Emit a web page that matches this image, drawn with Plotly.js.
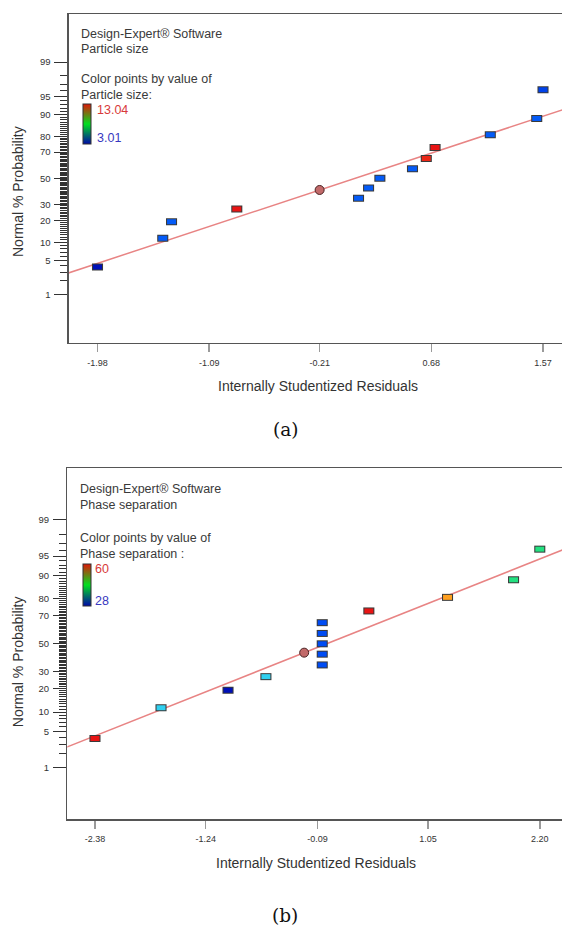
<!DOCTYPE html>
<html><head><meta charset="utf-8">
<script src="https://cdn.plot.ly/plotly-3.0.1.min.js"></script>
<style>html,body{margin:0;padding:0;overflow:hidden;background:#fff;width:562px;height:928px}#chart{width:640px;height:928px}</style>
</head><body><div id="chart"></div><script>
// ---------- data ----------
// Panel (a): Particle size
const residA   = [-1.98, -1.46, -1.39, -0.87, 0.10, 0.18, 0.27, 0.53, 0.64, 0.71, 1.15, 1.52, 1.57];
const probA    = [3.8, 11.5, 19.2, 26.9, 34.6, 42.3, 50.0, 57.7, 65.4, 73.1, 80.8, 88.5, 96.2];
const valueA   = [3.01, 4.2, 4.2, 13.04, 4.2, 4.2, 4.2, 4.2, 12.8, 13.04, 4.2, 4.2, 3.8];
const colorRangeA = [3.01, 13.04];
const centerResA  = [-0.21];
const centerProbA = [40.8];
const fitA        = [-0.059, 0.83];   // [intercept, slope] in normal-score units
const xTickA      = [-1.98, -1.09, -0.21, 0.68, 1.57];
const xTickTextA  = ["-1.98", "-1.09", "-0.21", "0.68", "1.57"];

// Panel (b): Phase separation
const residB   = [-2.38, -1.70, -1.01, -0.62, -0.04, -0.04, -0.04, -0.04, -0.04, 0.44, 1.25, 1.93, 2.20];
const probB    = [3.8, 11.5, 19.2, 26.9, 34.6, 42.3, 50.0, 57.7, 65.4, 73.1, 80.8, 88.5, 96.2];
const valueB   = [60, 38, 28, 38, 31, 31, 31, 31, 31, 60, 54, 45, 45];
const colorRangeB = [28, 60];
const centerResB  = [-0.226];
const centerProbB = [43.4];
const fitB        = [-0.003, 0.724];
const xTickB      = [-2.38, -1.24, -0.09, 1.05, 2.20];
const xTickTextB  = ["-2.38", "-1.24", "-0.09", "1.05", "2.20"];

const probTicks     = [1, 5, 10, 20, 30, 50, 70, 80, 90, 95, 99];
const probTickText  = ["1", "5", "10", "20", "30", "50", "70", "80", "90", "95", "99"];
const probMinor     = [2,3,4,6,7,8,9,11,12,13,14,15,16,17,18,19,21,22,23,24,25,26,27,28,29,31,32,33,34,35,36,37,38,39,40,41,42,43,44,45,46,47,48,49,51,52,53,54,55,56,57,58,59,60,61,62,63,64,65,66,67,68,69,71,72,73,74,75,76,77,78,79,81,82,83,84,85,86,87,88,89,91,92,93,94,96,97,98];

// ---------- normal probability scale ----------
function probit(p){
  const a=[-3.969683028665376e+01,2.209460984245205e+02,-2.759285104469687e+02,1.383577518672690e+02,-3.066479806614716e+01,2.506628277459239e+00];
  const b=[-5.447609879822406e+01,1.615858368580409e+02,-1.556989798598866e+02,6.680131188771972e+01,-1.328068155288572e+01];
  const c=[-7.784894002430293e-03,-3.223964580411365e-01,-2.400758277161838e+00,-2.549732539343734e+00,4.374664141464968e+00,2.938163982698783e+00];
  const d=[7.784695709041462e-03,3.224671290700398e-01,2.445134137142996e+00,3.754408661907416e+00];
  const pl=0.02425, ph=1-pl; let q,r;
  if(p<pl){q=Math.sqrt(-2*Math.log(p));return (((((c[0]*q+c[1])*q+c[2])*q+c[3])*q+c[4])*q+c[5])/((((d[0]*q+d[1])*q+d[2])*q+d[3])*q+1);}
  if(p<=ph){q=p-0.5;r=q*q;return (((((a[0]*r+a[1])*r+a[2])*r+a[3])*r+a[4])*r+a[5])*q/(((((b[0]*r+b[1])*r+b[2])*r+b[3])*r+b[4])*r+1);}
  q=Math.sqrt(-2*Math.log(1-p));return -(((((c[0]*q+c[1])*q+c[2])*q+c[3])*q+c[4])*q+c[5])/((((d[0]*q+d[1])*q+d[2])*q+d[3])*q+1);
}
const toZ = arr => arr.map(p => probit(p/100));

// ---------- styling ----------
const W = 640, H = 928;
const PX = v => v / W, PY = v => 1 - v / H;
const FONT = "Liberation Sans, Arial, sans-serif";
const pointScale = [[0,'#0010b8'],[0.1,'#0050f8'],[0.3125,'#30d0f0'],[0.53,'#22e080'],[0.8125,'#ffa020'],[1,'#e81414']];
const barScale = [[0,'#0008a8'],[0.5,'#00e020'],[1,'#e01808']];

function panelTraces(xa, ya, res, prob, vals, crange, cRes, cProb, fit, cb){
  const z = toZ(prob);
  const fx = [-3.5, 3.5];
  return [
    {type:'scatter', mode:'lines', x:fx, y:fx.map(v => fit[0] + fit[1]*v), xaxis:xa, yaxis:ya,
     line:{color:'#e88484', width:1.5}, hoverinfo:'skip'},
    {type:'scatter', mode:'markers', x:res, y:z, xaxis:xa, yaxis:ya, hoverinfo:'skip',
     marker:{symbol:'line-ew-open', size:7.9, color:'#3a3a3a', line:{width:7}}},
    {type:'scatter', mode:'markers', x:res, y:z, xaxis:xa, yaxis:ya,
     marker:{symbol:'line-ew-open', size:6.4, color:vals, colorscale:pointScale, cmin:crange[0], cmax:crange[1], showscale:false, line:{width:5}}},
    {type:'scatter', mode:'markers', x:res, y:z, xaxis:xa, yaxis:ya, hoverinfo:'skip',
     marker:{size:4, opacity:0, color:vals, colorscale:barScale, cmin:crange[0], cmax:crange[1], showscale:true,
       colorbar:{x:PX(cb[0]), xanchor:'left', y:PY(cb[1]), yanchor:'top', len:cb[2], lenmode:'pixels', thickness:8,
                 xpad:0, ypad:0, outlinewidth:1, outlinecolor:'#333', showticklabels:false, ticks:''}}},
    {type:'scatter', mode:'markers', x:cRes, y:toZ(cProb), xaxis:xa, yaxis:ya,
     marker:{symbol:'circle', size:9, color:'#c26a6a', line:{color:'#4a2424', width:1}}}
  ];
}

const data = [
  ...panelTraces('x','y', residA, probA, valueA, colorRangeA, centerResA, centerProbA, fitA, [83, 104, 40]),
  ...panelTraces('x2','y2', residB, probB, valueB, colorRangeB, centerResB, centerProbB, fitB, [82.7, 564.3, 42])
];

function xAxis(dom, range, tv, tt, anchor){
  return {domain:dom, range:range, anchor:anchor, tickmode:'array', tickvals:tv, ticktext:tt,
    ticks:'outside', ticklen:8, tickwidth:1.5, tickcolor:'#9a9a9a', showline:true, mirror:true,
    linecolor:'#555', linewidth:1.3, showgrid:false, zeroline:false, fixedrange:true,
    ticklabelstandoff:3, tickfont:{family:FONT, size:9, color:'#333'}};
}
function yAxis(dom, anchor){
  return {domain:dom, range:[-3.29, 3.29], anchor:anchor, tickmode:'array',
    tickvals:toZ(probTicks), ticktext:probTickText, ticks:'outside', ticklen:13, tickwidth:1, tickcolor:'#333',
    minor:{tickmode:'array', tickvals:toZ(probMinor), ticks:'outside', ticklen:7, tickwidth:1, tickcolor:'#333'},
    showline:true, mirror:true, linecolor:'#555', linewidth:1.3, showgrid:false, zeroline:false, fixedrange:true,
    ticklabelstandoff:2, tickfont:{family:FONT, size:9.5, color:'#333'}};
}

function txt(text, x, y, opts){
  return Object.assign({text:text, x:PX(x), y:PY(y), xref:'paper', yref:'paper', showarrow:false,
    xanchor:'left', yanchor:'middle', borderpad:0, font:{family:FONT, size:12.5, color:'#3a3a3a'}}, opts||{});
}

const annotations = [
  txt('Design-Expert® Software', 80, 34),
  txt('Particle size', 80, 49),
  txt('Color points by value of', 80, 79.3),
  txt('Particle size:', 80, 95),
  txt('13.04', 96, 110, {font:{family:FONT, size:12.5, color:'#d83a3a'}}),
  txt('3.01', 96, 137.7, {font:{family:FONT, size:12.5, color:'#3838c0'}}),
  txt('Normal % Probability', 18, 192, {xanchor:'center', textangle:-90, font:{family:FONT, size:14, color:'#333'}}),
  txt('Internally Studentized Residuals', 317.7, 386, {xanchor:'center', font:{family:FONT, size:14, color:'#333'}}),
  txt('(a)', 285, 429.3, {xanchor:'center', font:{family:'DejaVu Serif, serif', size:18.5, color:'#111'}}),

  txt('Design-Expert® Software', 78.5, 489.3),
  txt('Phase separation', 78.5, 505.3),
  txt('Color points by value of', 78.5, 537.7),
  txt('Phase separation :', 78.5, 554.3),
  txt('60', 94, 569.3, {font:{family:FONT, size:12.5, color:'#d83a3a'}}),
  txt('28', 94, 601, {font:{family:FONT, size:12.5, color:'#3838c0'}}),
  txt('Normal % Probability', 17.5, 661.7, {xanchor:'center', textangle:-90, font:{family:FONT, size:14, color:'#333'}}),
  txt('Internally Studentized Residuals', 315.7, 863.3, {xanchor:'center', font:{family:FONT, size:14, color:'#333'}}),
  txt('(b)', 285, 915, {xanchor:'center', font:{family:'DejaVu Serif, serif', size:18.5, color:'#111'}})
];

const layout = {
  width:W, height:H, margin:{l:0, r:0, t:0, b:0}, showlegend:false,
  paper_bgcolor:'#fff', plot_bgcolor:'#fff', hovermode:false,
  xaxis: xAxis([PX(68.7), PX(620)], [-2.2095, 2.1835], xTickA, xTickTextA, 'y'),
  yaxis: yAxis([PY(342.7), PY(14)], 'x'),
  xaxis2: xAxis([PX(67.3), PX(620)], [-2.665, 3.026], xTickB, xTickTextB, 'y2'),
  yaxis2: yAxis([PY(819.3), PY(468.3)], 'x2'),
  annotations: annotations
};

Plotly.newPlot('chart', data, layout, {staticPlot:true, displayModeBar:false});
</script></body></html>
